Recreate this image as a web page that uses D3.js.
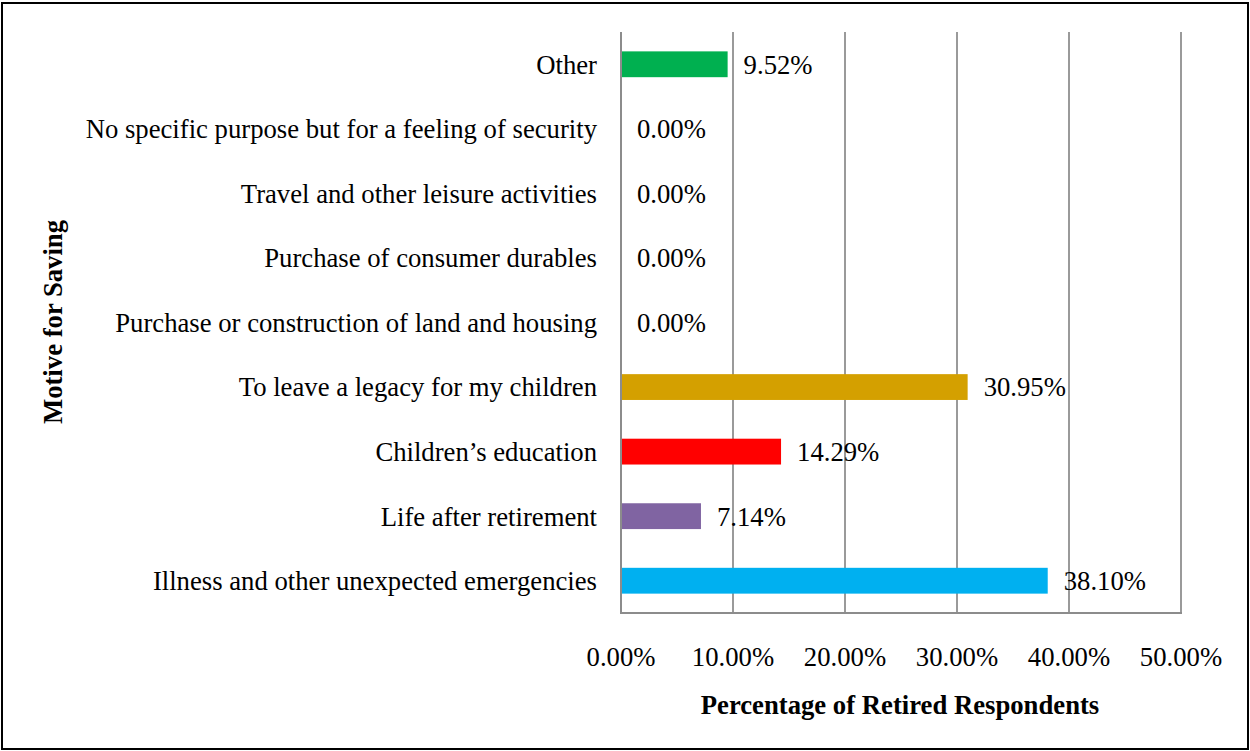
<!DOCTYPE html>
<html>
<head>
<meta charset="utf-8">
<script src="https://cdn.jsdelivr.net/npm/d3@7"></script>
<style>
  html, body { margin: 0; padding: 0; background: #fff; }
  svg text { font-family: "Liberation Serif", "Times New Roman", serif; fill: #000; }
</style>
</head>
<body>
<svg id="chart" width="1250" height="751"></svg>
<script>
// Saving motives, listed top to bottom
const categories = [
  "Other",
  "No specific purpose but for a feeling of security",
  "Travel and other leisure activities",
  "Purchase of consumer durables",
  "Purchase or construction of land and housing",
  "To leave a legacy for my children",
  "Children\u2019s education",
  "Life after retirement",
  "Illness and other unexpected emergencies"
];
const values = [9.52, 0.00, 0.00, 0.00, 0.00, 30.95, 14.29, 7.14, 38.10];
const barColors = ["#00B050", "#00B050", "#00B050", "#00B050", "#00B050", "#D4A000", "#FF0000", "#8064A2", "#00B0F0"];
const xTicks = [0, 10, 20, 30, 40, 50];

const svg = d3.select("#chart");
const W = 1250, H = 751;
const FS = 26.7;

// outer frame
svg.append("rect")
  .attr("x", 2).attr("y", 3).attr("width", W - 4).attr("height", H - 5)
  .attr("fill", "none").attr("stroke", "#000").attr("stroke-width", 2);

const plot = { left: 621, right: 1181, top: 32, bottom: 613 };

const x = d3.scaleLinear().domain([0, 50]).range([plot.left, plot.right]);
const y = d3.scaleBand().domain(categories).range([plot.top, plot.bottom]).paddingInner(0.6).paddingOuter(0.3);

// vertical gridlines
svg.append("g").selectAll("line").data(xTicks.slice(1)).join("line")
  .attr("x1", d => x(d)).attr("x2", d => x(d))
  .attr("y1", plot.top).attr("y2", plot.bottom)
  .attr("stroke", "#9a9a9a").attr("stroke-width", 2);

// bars
svg.append("g").selectAll("rect").data(values).join("rect")
  .attr("x", x(0))
  .attr("y", (d, i) => y(categories[i]))
  .attr("width", d => x(d) - x(0))
  .attr("height", y.bandwidth())
  .attr("fill", (d, i) => barColors[i]);

// axis lines
svg.append("line")
  .attr("x1", plot.left).attr("x2", plot.left)
  .attr("y1", plot.top).attr("y2", plot.bottom)
  .attr("stroke", "#8c8c8c").attr("stroke-width", 2);
svg.append("line")
  .attr("x1", plot.left - 1).attr("x2", plot.right + 1)
  .attr("y1", plot.bottom).attr("y2", plot.bottom)
  .attr("stroke", "#8c8c8c").attr("stroke-width", 2);

// category labels
svg.append("g").selectAll("text").data(categories).join("text")
  .attr("x", 597)
  .attr("y", d => y(d) + y.bandwidth() / 2)
  .attr("dy", "0.35em")
  .attr("text-anchor", "end")
  .attr("font-size", FS)
  .text(d => d);

// value labels
svg.append("g").selectAll("text").data(values).join("text")
  .attr("x", d => x(d) + 16)
  .attr("y", (d, i) => y(categories[i]) + y.bandwidth() / 2)
  .attr("dy", "0.35em")
  .attr("font-size", FS)
  .text(d => d.toFixed(2) + "%");

// x tick labels
svg.append("g").selectAll("text").data(xTicks).join("text")
  .attr("x", d => x(d))
  .attr("y", 657)
  .attr("dy", "0.35em")
  .attr("text-anchor", "middle")
  .attr("font-size", FS)
  .text(d => d.toFixed(2) + "%");

// axis titles
svg.append("text")
  .attr("x", 900).attr("y", 705).attr("dy", "0.35em")
  .attr("text-anchor", "middle")
  .attr("font-size", FS).attr("font-weight", "bold")
  .text("Percentage of Retired Respondents");

svg.append("text")
  .attr("transform", "translate(53,322) rotate(-90)")
  .attr("dy", "0.35em")
  .attr("text-anchor", "middle")
  .attr("font-size", FS).attr("font-weight", "bold")
  .text("Motive for Saving");
</script>
</body>
</html>
